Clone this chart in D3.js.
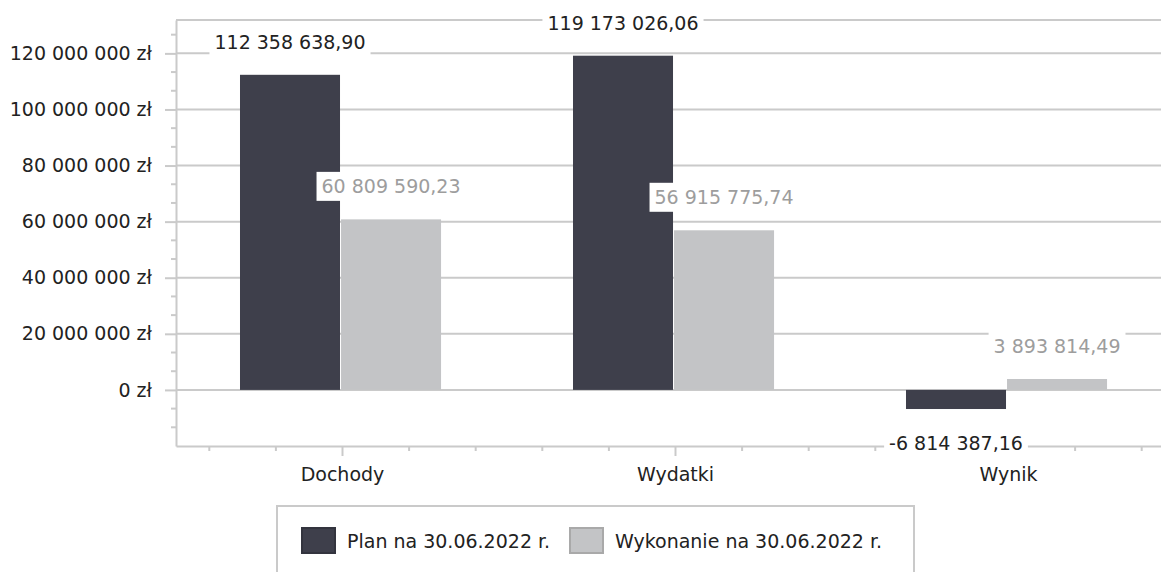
<!DOCTYPE html>
<html>
<head>
<meta charset="utf-8">
<script src="https://cdn.jsdelivr.net/npm/d3@7"></script>
<style>
  html, body { margin: 0; padding: 0; background: #fff; }
  svg { display: block; font-family: 'DejaVu Sans', Verdana, sans-serif; }
</style>
</head>
<body>
<div id="container"></div>
<script>
const categories = ['Dochody', 'Wydatki', 'Wynik'];
const seriesNames = ['Plan na 30.06.2022 r.', 'Wykonanie na 30.06.2022 r.'];
const planValues = [112358638.90, 119173026.06, -6814387.16];
const wykonanieValues = [60809590.23, 56915775.74, 3893814.49];
const yTicks = [0, 20e6, 40e6, 60e6, 80e6, 100e6, 120e6];

const width = 1161, height = 572;
const plot = { left: 176, top: 20, right: 1175, bottom: 446 };
const colors = ['#3e3f4b', '#c3c4c6'];
const labelColors = ['#222222', '#9d9d9d'];
const gridColor = '#cacaca';
const fontSize = 19;

const svg = d3.select('#container').append('svg')
  .attr('width', width).attr('height', height);

const x = d3.scaleBand().domain(categories).range([plot.left, plot.right]);
const x1 = d3.scaleBand().domain(seriesNames).range([0, x.bandwidth()])
  .paddingInner(0.01).paddingOuter(0.653).align(0.485);
const y = d3.scaleLinear().domain([-20e6, 131.9e6]).range([plot.bottom, plot.top]);

const fmtNum = v => {
  const s = Math.abs(v).toFixed(2).split('.');
  const intPart = s[0].replace(/\B(?=(\d{3})+(?!\d))/g, ' ');
  return (v < 0 ? '-' : '') + intPart + ',' + s[1];
};
const fmtZl = v => d3.format(',')(v).replace(/,/g, ' ') + ' zł';

// siatka
svg.append('g').selectAll('line').data(yTicks).join('line')
  .attr('x1', plot.left).attr('x2', width)
  .attr('y1', d => y(d)).attr('y2', d => y(d))
  .attr('stroke', gridColor).attr('stroke-width', 2);

// ramka obszaru wykresu
svg.append('line').attr('x1', plot.left).attr('x2', width)
  .attr('y1', plot.top).attr('y2', plot.top)
  .attr('stroke', gridColor).attr('stroke-width', 2);

// oś Y
const yAxis = d3.axisLeft(y).tickValues(yTicks).tickFormat(fmtZl)
  .tickSize(11).tickSizeOuter(0).tickPadding(13);
const gy = svg.append('g').attr('transform', `translate(${plot.left},0)`).call(yAxis);
gy.select('.domain').attr('stroke', gridColor).attr('stroke-width', 2);
gy.selectAll('.tick line').attr('stroke', gridColor).attr('stroke-width', 2);
gy.selectAll('.tick text').attr('fill', '#222').style('font-size', fontSize + 'px')
  .style('font-family', "'DejaVu Sans', Verdana, sans-serif");

const minorY = d3.range(-20e6, 131e6, 20e6 / 3).filter(v => Math.abs(Math.round(v / 1e6) % 20) > 0.5 && v > -19e6);
svg.append('g').selectAll('line').data(minorY).join('line')
  .attr('x1', plot.left - 5).attr('x2', plot.left)
  .attr('y1', d => y(d)).attr('y2', d => y(d))
  .attr('stroke', gridColor).attr('stroke-width', 2);

// oś X
const gx = svg.append('g').attr('transform', `translate(0,${plot.bottom})`)
  .call(d3.axisBottom(x).tickSize(10).tickSizeOuter(0).tickPadding(12));
gx.select('.domain').attr('stroke', gridColor).attr('stroke-width', 2);
gx.selectAll('.tick line').attr('stroke', gridColor).attr('stroke-width', 2);
gx.selectAll('.tick text').attr('fill', '#222').style('font-size', fontSize + 'px')
  .style('font-family', "'DejaVu Sans', Verdana, sans-serif");

const step = x.bandwidth() / 5;
const minorX = [];
categories.forEach(c => {
  const cx = x(c) + x.bandwidth() / 2;
  [-2, -1, 1, 2].forEach(k => minorX.push(cx + k * step));
});
svg.append('g').selectAll('line').data(minorX.filter(v => v > plot.left && v < width)).join('line')
  .attr('x1', d => d).attr('x2', d => d)
  .attr('y1', plot.bottom).attr('y2', plot.bottom + 5)
  .attr('stroke', gridColor).attr('stroke-width', 2);

// słupki
const rows = categories.map((c, i) => ({ cat: c, values: [planValues[i], wykonanieValues[i]] }));
const barData = rows.flatMap(r => r.values.map((v, j) => ({ cat: r.cat, s: seriesNames[j], j, v })));

svg.append('g').selectAll('rect').data(barData).join('rect')
  .attr('x', d => x(d.cat) + x1(d.s))
  .attr('width', x1.bandwidth())
  .attr('y', d => y(Math.max(0, d.v)))
  .attr('height', d => Math.abs(y(d.v) - y(0)))
  .attr('fill', d => colors[d.j]);

// etykiety danych
const labels = svg.append('g').selectAll('g').data(barData).join('g')
  .attr('transform', d => {
    const cx = x(d.cat) + x1(d.s) + x1.bandwidth() / 2;
    const cy = d.v >= 0 ? y(d.v) - 33 : y(d.v) + 34;
    return `translate(${cx},${cy})`;
  });
labels.append('rect').attr('fill', '#fff');
labels.append('text')
  .attr('text-anchor', 'middle').attr('dy', '0.36em')
  .attr('fill', d => labelColors[d.j])
  .style('font-size', fontSize + 'px')
  .text(d => fmtNum(d.v));
labels.each(function() {
  const g = d3.select(this);
  const bb = g.select('text').node().getBBox();
  g.select('rect').attr('x', bb.x - 5).attr('y', -14.5).attr('width', bb.width + 10).attr('height', 29);
});

// legenda
const legend = svg.append('g');
legend.append('rect').attr('x', 277).attr('y', 506).attr('width', 637).attr('height', 80)
  .attr('fill', '#fff').attr('stroke', gridColor).attr('stroke-width', 2);
const legendX = [301, 569];
const li = legend.selectAll('g').data(seriesNames).join('g')
  .attr('transform', (d, i) => `translate(${legendX[i]},527)`);
li.append('rect').attr('x', 1).attr('y', 1).attr('width', 33).attr('height', 25)
  .attr('fill', (d, i) => colors[i])
  .attr('stroke', (d, i) => i === 0 ? '#33343e' : '#a9a9a9').attr('stroke-width', 2);
li.append('text').attr('x', 46).attr('y', 14).attr('dy', '0.36em')
  .attr('fill', '#222').style('font-size', fontSize + 'px')
  .text(d => d);
</script>
</body>
</html>
